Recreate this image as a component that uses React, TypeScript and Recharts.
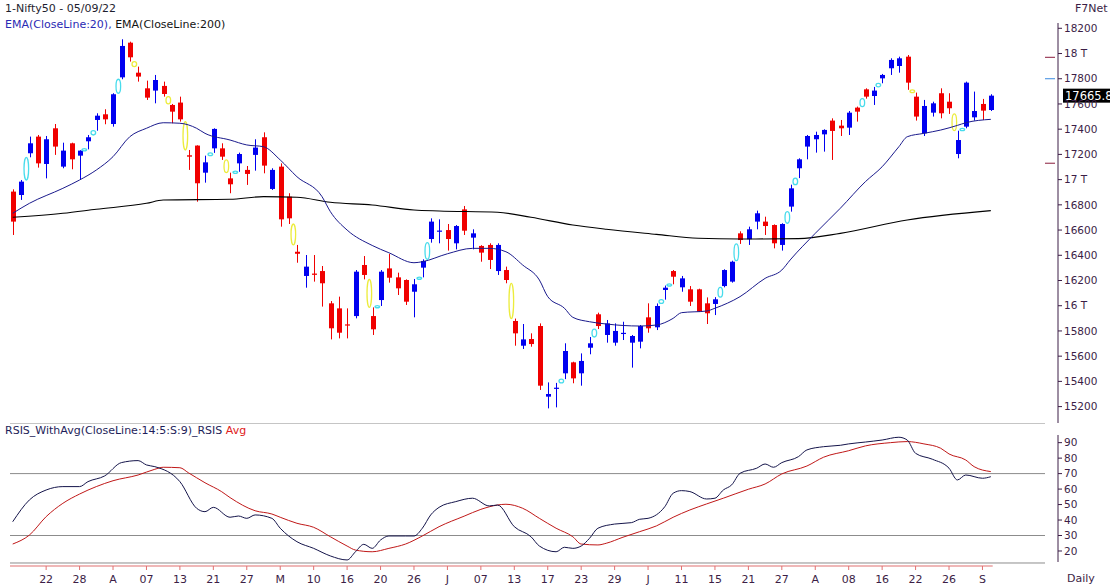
import React from 'react';
import { ComposedChart, Bar, Line, XAxis, YAxis, ReferenceLine } from 'recharts';

// Nifty50 daily candles, 15 Mar 2022 .. 05 Sep 2022
const opens = [16905, 16878, 17209, 17341, 17124, 17407, 17103, 17288, 17190, 17304, 17473, 17518, 17441, 17811, 18086, 17848, 17724, 17706, 17743, 17592, 17611, 17193, 17270, 17055, 17248, 17248, 17010, 17129, 17077, 17196, 17336, 16926, 17103, 16865, 16428, 16236, 16255, 16275, 16019, 15979, 15852, 15918, 16323, 15918, 16045, 16296, 16225, 16204, 16111, 16302, 16529, 16590, 16600, 16495, 16764, 16540, 16474, 16482, 16275, 16283, 15879, 15683, 15736, 15839, 15279, 15342, 15464, 15551, 15464, 15667, 15932, 15768, 15707, 15780, 15707, 15715, 15908, 15829, 16125, 16275, 16146, 16130, 16130, 16019, 16014, 16156, 16191, 16574, 16527, 16667, 16667, 16640, 16482, 16786, 17090, 17262, 17320, 17359, 17468, 17428, 17412, 17571, 17716, 17663, 17803, 17883, 17901, 17975, 17658, 17367, 17531, 17685, 17618, 17203, 17420, 17494, 17600, 17552];
const highs = [16923, 16997, 17341, 17354, 17346, 17441, 17293, 17293, 17233, 17354, 17526, 17558, 17685, 18113, 18094, 17896, 17785, 17830, 17777, 17600, 17658, 17235, 17272, 17190, 17407, 17288, 17055, 17214, 17108, 17320, 17375, 17090, 17129, 16892, 16482, 16402, 16402, 16315, 16037, 16072, 15979, 16283, 16394, 15987, 16283, 16410, 16262, 16209, 16212, 16368, 16693, 16685, 16648, 16640, 16791, 16606, 16480, 16495, 16495, 16310, 15898, 15855, 15781, 15860, 15392, 15388, 15702, 15556, 15622, 15752, 15945, 15887, 15860, 15873, 15768, 15847, 16019, 16018, 16160, 16283, 16236, 16156, 16135, 16066, 16068, 16289, 16357, 16590, 16627, 16754, 16706, 16645, 16654, 16960, 17169, 17354, 17380, 17399, 17486, 17473, 17544, 17579, 17724, 17735, 17838, 17962, 17975, 17988, 17690, 17632, 17618, 17724, 17685, 17388, 17777, 17698, 17640, 17677];
const lows = [16561, 16839, 17177, 17095, 17010, 17196, 17090, 17082, 16997, 17240, 17388, 17439, 17420, 17796, 17936, 17777, 17632, 17605, 17658, 17447, 17460, 17077, 16825, 16976, 17212, 17156, 16892, 17062, 16958, 17071, 17050, 16918, 16627, 16648, 16341, 16143, 16191, 15993, 15733, 15741, 15741, 15900, 16209, 15768, 15998, 16183, 16085, 16006, 15908, 16225, 16500, 16495, 16437, 16447, 16561, 16447, 16349, 16291, 16244, 16178, 15683, 15657, 15675, 15332, 15186, 15194, 15418, 15385, 15366, 15615, 15815, 15707, 15683, 15728, 15509, 15662, 15786, 15807, 16048, 16170, 16111, 15998, 15950, 15855, 15926, 16146, 16183, 16490, 16482, 16606, 16561, 16455, 16437, 16746, 17012, 17161, 17214, 17222, 17156, 17346, 17354, 17460, 17642, 17592, 17764, 17830, 17848, 17712, 17468, 17346, 17500, 17486, 17521, 17169, 17407, 17468, 17473, 17544];
const closes = [16667, 16984, 17288, 17129, 17320, 17262, 17230, 17161, 17230, 17336, 17507, 17478, 17677, 18060, 17970, 17817, 17650, 17790, 17679, 17539, 17478, 17182, 16971, 17137, 17402, 17182, 16963, 17203, 17045, 17254, 17111, 17077, 16685, 16693, 16412, 16310, 16245, 16178, 15821, 15786, 15843, 16270, 16244, 15813, 16270, 16222, 16138, 16032, 16170, 16355, 16667, 16596, 16529, 16632, 16595, 16574, 16421, 16363, 16482, 16204, 15781, 15733, 15696, 15366, 15300, 15350, 15641, 15424, 15562, 15702, 15839, 15860, 15800, 15785, 15760, 15839, 15821, 15998, 16143, 16230, 16217, 16032, 15953, 15940, 16051, 16283, 16349, 16521, 16606, 16733, 16632, 16495, 16648, 16931, 17161, 17346, 17354, 17394, 17386, 17407, 17531, 17539, 17658, 17706, 17830, 17949, 17962, 17769, 17500, 17584, 17605, 17526, 17566, 17314, 17769, 17544, 17547, 17665.8];

// indicator readings: [candle index, value]
const ema20Points: [number, number][] = [[0, 16733], [2, 16812], [6, 16931], [8, 16997], [10, 17076], [12, 17182], [14, 17340], [16, 17407], [18, 17451], [20, 17447], [22, 17407], [23, 17367], [26, 17314], [28, 17275], [30, 17261], [32, 17156], [34, 17023], [37, 16865], [38, 16746], [40, 16600], [43, 16478], [45, 16420], [48, 16341], [49, 16349], [52, 16412], [55, 16455], [57, 16455], [59, 16428], [61, 16323], [63, 16204], [64, 16072], [66, 15980], [67, 15908], [69, 15873], [71, 15855], [75, 15839], [77, 15847], [79, 15900], [80, 15945], [83, 15958], [84, 15980], [87, 16072], [90, 16217], [92, 16283], [93, 16363], [96, 16574], [99, 16773], [102, 16984], [104, 17102], [106, 17261], [107, 17340], [109, 17367], [111, 17393], [113, 17430], [114, 17451], [117, 17478]];
const ema200Points: [number, number][] = [[0, 16701], [6, 16733], [10, 16765], [16, 16812], [18, 16838], [26, 16844], [30, 16865], [34, 16860], [38, 16820], [43, 16799], [48, 16759], [51, 16751], [58, 16741], [62, 16701], [67, 16640], [71, 16606], [77, 16566], [82, 16535], [87, 16529], [94, 16532], [99, 16574], [107, 16680], [117, 16754]];
const rsiPoints: [number, number][] = [[0, 38.9], [2, 53], [4, 59.4], [6, 61.6], [8, 61.6], [9, 64.8], [11, 68.5], [13, 77.1], [15, 78.4], [16, 75.6], [17, 74.5], [20, 64.8], [22, 47.6], [23, 45.4], [24, 48.2], [26, 41.8], [27, 42.6], [28, 41.1], [29, 43.3], [31, 41.1], [32, 34.7], [34, 26], [36, 21.7], [38, 16.8], [40, 14.2], [41, 19.5], [42, 24.3], [43, 21.7], [44, 27.1], [45, 29.7], [47, 29.7], [48, 29.7], [49, 34.7], [50, 43.3], [51, 48.2], [53, 51.9], [55, 54.1], [57, 49.1], [58, 49.7], [60, 35.7], [62, 29.2], [63, 23.2], [65, 19.5], [66, 22.4], [67, 21.7], [68, 23.2], [69, 28.2], [70, 34.7], [72, 37.4], [74, 38.3], [75, 40.5], [76, 41.1], [78, 48.6], [79, 57.3], [80, 59], [81, 58.4], [83, 53.6], [84, 54.1], [85, 59.4], [86, 62.7], [87, 70.2], [89, 73.5], [90, 76.2], [91, 74.1], [92, 77.1], [94, 81], [95, 85.3], [97, 87.4], [99, 88.3], [100, 89.2], [102, 90.4], [104, 91.7], [106, 93.5], [107, 91.7], [108, 83.1], [110, 79.3], [112, 73.5], [113, 65.9], [114, 69.1], [116, 67], [117, 68]];
const rsiAvgPoints: [number, number][] = [[0, 24.5], [2, 30.3], [4, 42.2], [6, 50.8], [8, 56.8], [10, 61.6], [12, 65.4], [15, 69.1], [17, 72.8], [18, 74.1], [20, 73.8], [21, 70.6], [23, 64.1], [25, 58.3], [26, 54.5], [29, 46], [31, 43.9], [32, 41.8], [34, 37.9], [36, 35.3], [38, 29.2], [40, 23.2], [41, 20.6], [43, 19.5], [45, 21.7], [47, 24.5], [49, 29.7], [51, 35.7], [54, 42.5], [56, 46.9], [58, 49.7], [59, 50.2], [61, 47.6], [63, 41.1], [65, 34.7], [67, 29.2], [68, 24.5], [70, 23.9], [71, 25], [73, 28.9], [75, 32.5], [77, 36.2], [79, 41.8], [81, 46.5], [83, 50.4], [85, 54.1], [88, 59.9], [90, 63.3], [92, 69.8], [95, 74.9], [97, 80.6], [100, 84.8], [102, 87.9], [105, 90], [107, 90.7], [109, 89.2], [111, 86.4], [112, 82.7], [114, 78.8], [115, 74.5], [117, 71.3]];

const tickIndex = [4, 8, 12, 16, 20, 24, 28, 32, 36, 40, 44, 48, 52, 56, 60, 64, 68, 72, 76, 80, 84, 88, 92, 96, 100, 104, 108, 112, 116];
const tickLabels = ['22', '28', 'A', '07', '13', '21', '27', 'M', '10', '16', '20', '26', 'J', '07', '13', '17', '23', '29', 'J', '11', '15', '21', '27', 'A', '08', '16', '22', '26', 'S'];

const priceTicks = [15200, 15400, 15600, 15800, 16000, 16200, 16400, 16600, 16800, 17000, 17200, 17400, 17600, 17800, 18000, 18200];
const rsiTicks = [20, 30, 40, 50, 60, 70, 80, 90];
const rsiLevels = [70, 30];
const axisMarks = [
  { value: 17970, color: '#8a1c3c' },
  { value: 17800, color: '#3a8ae0' },
  { value: 17130, color: '#8a1c3c' },
];

// layout
const W = 1110;
const PLOT_LEFT = 10;
const AXIS_X = 1058;
const STEP = 8.36;
const X_MIN = -(12.7 - PLOT_LEFT) / STEP;
const X_MAX = X_MIN + (AXIS_X - PLOT_LEFT) / STEP;
const xAt = (px: number) => X_MIN + (px - PLOT_LEFT) / STEP;

const PRICE_DOMAIN: [number, number] = [15070, 18242];
const RSI_DOMAIN: [number, number] = [10.3, 102.7];

const FONT = 'DejaVu Sans, Verdana, sans-serif';
const AXIS = '#3c1e46';
const BLUE = '#0000f0';
const RED = '#f00000';

const toMap = (pts: [number, number][]) => new Map(pts.map(([i, v]) => [i, v]));
const ema20Map = toMap(ema20Points);
const ema200Map = toMap(ema200Points);
const rsiMap = toMap(rsiPoints);
const rsiAvgMap = toMap(rsiAvgPoints);

const rows = closes.map((close, i) => {
  let gapType: string | null = null;
  let gapFrom = 0;
  let gapTo = 0;
  if (i > 0) {
    if (lows[i] > highs[i - 1]) {
      gapType = 'up';
      gapFrom = highs[i - 1];
      gapTo = lows[i];
    } else if (highs[i] < lows[i - 1]) {
      gapType = 'down';
      gapFrom = lows[i - 1];
      gapTo = highs[i];
    }
  }
  return {
    i,
    open: opens[i],
    high: highs[i],
    low: lows[i],
    close,
    range: [lows[i], highs[i]],
    gapType,
    gapFrom,
    gapTo,
    ema20: ema20Map.get(i) ?? null,
    ema200: ema200Map.get(i) ?? null,
    rsi: rsiMap.get(i) ?? null,
    rsiAvg: rsiAvgMap.get(i) ?? null,
  };
});

const lastClose = closes[closes.length - 1];

function Candle(props: any) {
  const { x, y, width, height, payload } = props;
  if (!payload || x == null || y == null) return null;
  const top = height >= 0 ? y : y + height;
  const h = Math.abs(height);
  const { open, close, high, low } = payload;
  const k = high === low ? 0 : h / (high - low);
  const yOf = (v: number) => top + (high - v) * k;
  const cx = Math.round(x + width / 2) + 0.5;
  const up = close >= open;
  const color = up ? BLUE : RED;
  const bTop = yOf(Math.max(open, close));
  const bBot = yOf(Math.min(open, close));
  let gap = null;
  if (payload.gapType) {
    const g1 = yOf(payload.gapFrom);
    const g2 = yOf(payload.gapTo);
    gap = (
      <ellipse
        cx={cx - STEP / 2}
        cy={(g1 + g2) / 2}
        rx={2.3}
        ry={Math.max(1.1, Math.abs(g2 - g1) / 2)}
        fill="none"
        stroke={payload.gapType === 'up' ? '#48dcec' : '#ecec3c'}
        strokeWidth={1.3}
      />
    );
  }
  return (
    <g>
      {gap}
      <line x1={cx} x2={cx} y1={top} y2={top + h} stroke={color} strokeWidth={1} />
      <rect x={cx - 2.5} y={bTop} width={5} height={Math.max(1.2, bBot - bTop)} fill={color} />
    </g>
  );
}

function PriceTag(props: any) {
  const vb = props.viewBox || {};
  const x = (vb.x ?? 0) + (vb.width ?? 0) + 5;
  const y = vb.y ?? 0;
  return (
    <g>
      <rect x={x} y={y - 7} width={60} height={14} fill="#000" />
      <text x={x + 2} y={y + 4.5} fill="#fff" fontSize={11.5} fontFamily={FONT}>
        {lastClose.toFixed(1)}
      </text>
    </g>
  );
}

const fmtPrice = (v: number) => (v % 1000 === 0 ? `${v / 1000} T` : `${v}`);
const fmtDate = (v: number) => tickLabels[tickIndex.indexOf(v)] ?? '';

const textStyle = (top: number, left: number, color: string): React.CSSProperties => ({
  position: 'absolute',
  top,
  left,
  fontSize: 11,
  lineHeight: '13px',
  color,
  fontFamily: FONT,
  whiteSpace: 'nowrap',
});

export default function App() {
  return (
    <div style={{ position: 'absolute', left: 0, top: 0, width: W, height: 587, background: '#fff', overflow: 'hidden' }}>
      <div style={{ position: 'absolute', left: 0, top: 0 }}>
        <ComposedChart width={W} height={423} data={rows} margin={{ top: 23, right: 0, bottom: 0, left: PLOT_LEFT }}>
          <XAxis dataKey="i" type="number" domain={[X_MIN, X_MAX]} allowDataOverflow hide />
          <YAxis
            orientation="right"
            domain={PRICE_DOMAIN}
            allowDataOverflow
            ticks={priceTicks}
            interval={0}
            width={W - AXIS_X}
            tickSize={4}
            axisLine={{ stroke: AXIS }}
            tickLine={{ stroke: AXIS }}
            tick={{ fill: AXIS, fontSize: 10.5, fontFamily: FONT }}
            tickFormatter={fmtPrice}
          />
          <Bar dataKey="range" barSize={5} shape={(p: any) => <Candle {...p} />} isAnimationActive={false} />
          <Line type="monotone" dataKey="ema200" stroke="#000" strokeWidth={1.1} dot={false} connectNulls isAnimationActive={false} />
          <Line type="monotone" dataKey="ema20" stroke="#1a1a8c" strokeWidth={1} dot={false} connectNulls isAnimationActive={false} />
          {axisMarks.map((m) => (
            <ReferenceLine
              key={m.value}
              segment={[{ x: xAt(1045), y: m.value }, { x: xAt(1055), y: m.value }]}
              stroke={m.color}
              strokeWidth={1}
              ifOverflow="visible"
            />
          ))}
          <ReferenceLine y={lastClose} stroke="none" label={<PriceTag />} ifOverflow="visible" />
        </ComposedChart>
      </div>

      <div style={{ position: 'absolute', left: 0, top: 423 }}>
        <ComposedChart width={W} height={164} data={rows} margin={{ top: 0, right: 0, bottom: 0, left: PLOT_LEFT }}>
          <XAxis
            dataKey="i"
            type="number"
            domain={[X_MIN, X_MAX]}
            allowDataOverflow
            ticks={tickIndex}
            interval={0}
            height={21}
            axisLine={false}
            tickSize={4}
            tickMargin={5}
            tickLine={{ stroke: '#e07070' }}
            tick={{ fill: AXIS, fontSize: 11, fontFamily: FONT }}
            tickFormatter={fmtDate}
          />
          <YAxis
            orientation="right"
            domain={RSI_DOMAIN}
            allowDataOverflow
            ticks={rsiTicks}
            interval={0}
            width={W - AXIS_X}
            tickSize={4}
            axisLine={false}
            tickLine={{ stroke: AXIS }}
            tick={{ fill: AXIS, fontSize: 10.5, fontFamily: FONT }}
          />
          {[RSI_DOMAIN[1], ...rsiLevels, 12.24].map((v) => (
            <ReferenceLine
              key={v}
              segment={[{ x: X_MIN, y: v }, { x: xAt(1045), y: v }]}
              stroke="#8c8c8c"
              strokeWidth={1}
              ifOverflow="visible"
            />
          ))}
          <ReferenceLine
            segment={[{ x: X_MIN, y: RSI_DOMAIN[0] }, { x: xAt(992.7), y: RSI_DOMAIN[0] }]}
            stroke="#e07070"
            strokeWidth={1.2}
            ifOverflow="visible"
          />
          <ReferenceLine
            segment={[{ x: X_MAX, y: 12.9 }, { x: X_MAX, y: 94.95 }]}
            stroke={AXIS}
            strokeWidth={1}
            ifOverflow="visible"
          />
          <Line type="monotone" dataKey="rsiAvg" stroke="#c01818" strokeWidth={1} dot={false} connectNulls isAnimationActive={false} />
          <Line type="monotone" dataKey="rsi" stroke="#14144a" strokeWidth={1} dot={false} connectNulls isAnimationActive={false} />
        </ComposedChart>
      </div>

      <div style={textStyle(2, 5, '#1e1e2e')}>1-Nifty50 - 05/09/22</div>
      <div style={textStyle(18, 5, '#1e1e2e')}>
        <span style={{ color: '#2a2ab4' }}>EMA(CloseLine:20),</span> <span style={{ color: '#141414' }}>EMA(CloseLine:200)</span>
      </div>
      <div style={textStyle(2, 1075, AXIS)}>F7Net</div>
      <div style={textStyle(424, 5, '#1e1e5a')}>
        RSIS_WithAvg(CloseLine:14:5:S:9)_RSIS <span style={{ color: '#e02020' }}>Avg</span>
      </div>
      <div style={textStyle(572, 1067, AXIS)}>Daily</div>
    </div>
  );
}
